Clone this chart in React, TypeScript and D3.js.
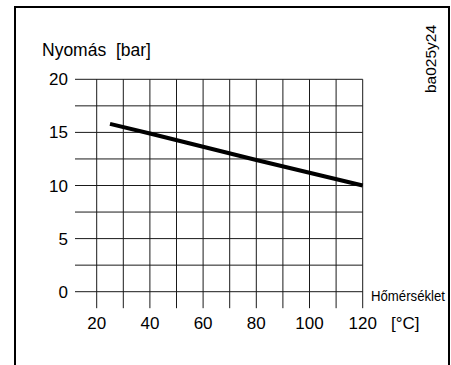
import { useEffect, useRef } from "react";
import * as d3 from "d3";

// temperature [°C] vs pressure [bar]
const temps = [25, 40, 60, 80, 100, 120];
const pressures = [15.8, 14.9, 13.65, 12.4, 11.2, 10];

const xTicks = [20, 40, 60, 80, 100, 120];
const xGrid = [20, 30, 40, 50, 60, 70, 80, 90, 100, 110, 120];
const yTicks = [0, 5, 10, 15, 20];
const yGrid = [0, 2.5, 5, 7.5, 10, 12.5, 15, 17.5, 20];

const FONT = "'Liberation Sans', Arial, sans-serif";

export default function App() {
  const ref = useRef<SVGSVGElement>(null);

  useEffect(() => {
    const svg = d3.select(ref.current);
    svg.selectAll("*").remove();

    const x = d3.scaleLinear().domain([20, 120]).range([96.7, 362.7]);
    const y = d3.scaleLinear().domain([0, 20]).range([291.7, 79.3]);

    // frame (open at the bottom)
    svg
      .append("path")
      .attr("d", "M15,372 V7 H449 V372")
      .attr("fill", "none")
      .attr("stroke", "black")
      .attr("stroke-width", 2);

    const grid = svg.append("g").attr("stroke", "#1a1a1a").attr("stroke-width", 1);

    grid
      .selectAll("line.h")
      .data(yGrid)
      .join("line")
      .attr("class", "h")
      .attr("x1", 75)
      .attr("x2", x(120))
      .attr("y1", (d) => y(d))
      .attr("y2", (d) => y(d));

    grid
      .selectAll("line.v")
      .data(xGrid)
      .join("line")
      .attr("class", "v")
      .attr("x1", (d) => x(d))
      .attr("x2", (d) => x(d))
      .attr("y1", y(20))
      .attr("y2", y(0) + 16.5);

    const line = d3
      .line<number>()
      .x((d, i) => x(temps[i]))
      .y((d) => y(d));

    svg
      .append("path")
      .attr("d", line(pressures))
      .attr("fill", "none")
      .attr("stroke", "black")
      .attr("stroke-width", 4);

    svg
      .append("g")
      .selectAll("text")
      .data(yTicks)
      .join("text")
      .attr("x", 68)
      .attr("y", (d) => y(d) + 6)
      .attr("text-anchor", "end")
      .attr("font-family", FONT)
      .attr("font-size", 17)
      .text((d) => d);

    svg
      .append("g")
      .selectAll("text")
      .data(xTicks)
      .join("text")
      .attr("x", (d) => x(d))
      .attr("y", 329)
      .attr("text-anchor", "middle")
      .attr("font-family", FONT)
      .attr("font-size", 17)
      .text((d) => d);

    svg
      .append("text")
      .attr("x", 391)
      .attr("y", 329)
      .attr("font-family", FONT)
      .attr("font-size", 17)
      .text("[°C]");

    svg
      .append("text")
      .attr("x", 371)
      .attr("y", 301)
      .attr("font-family", FONT)
      .attr("font-size", 14.5)
      .attr("textLength", 74)
      .attr("lengthAdjust", "spacingAndGlyphs")
      .text("Hőmérséklet");

    svg
      .append("text")
      .attr("x", 42)
      .attr("y", 56)
      .attr("font-family", FONT)
      .attr("font-size", 17.5)
      .attr("xml:space", "preserve")
      .style("white-space", "pre")
      .text("Nyomás  [bar]");

    svg
      .append("text")
      .attr("transform", "translate(436,93) rotate(-90)")
      .attr("font-family", FONT)
      .attr("font-size", 15.5)
      .text("ba025y24");
  }, []);

  return (
    <svg
      ref={ref}
      width={451}
      height={365}
      style={{ position: "absolute", left: 0, top: 0, background: "white" }}
    />
  );
}
